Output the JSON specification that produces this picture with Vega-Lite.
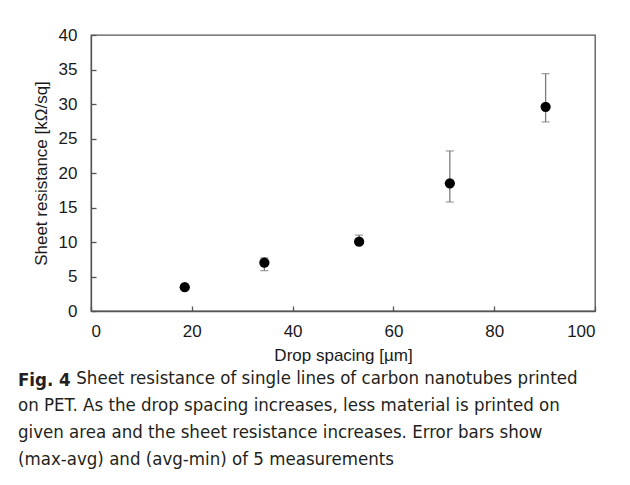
{
  "$schema": "https://vega.github.io/schema/vega-lite/v6.json",
  "autosize": {"type": "none"},
  "width": 504,
  "height": 276,
  "padding": {"left": 91, "top": 35, "right": 35, "bottom": 174},
  "background": "white",
  "data": {
    "values": [
      {"spacing": 18.6, "resistance": 3.45, "low": 3.2, "high": 3.7},
      {"spacing": 34.4, "resistance": 7.0, "low": 5.85, "high": 7.7},
      {"spacing": 53.2, "resistance": 10.05, "low": 9.7, "high": 11.0},
      {"spacing": 71.2, "resistance": 18.5, "low": 15.8, "high": 23.2},
      {"spacing": 90.2, "resistance": 29.6, "low": 27.4, "high": 34.4}
    ]
  },
  "title": {
    "text": "Fig. 4",
    "subtitle": [
      "\u200b\u2003\u2003\u2003\u2002Sheet resistance of single lines of carbon nanotubes printed",
      "on PET. As the drop spacing increases, less material is printed on",
      "given area and the sheet resistance increases. Error bars show",
      "(max-avg) and (avg-min) of 5 measurements"
    ],
    "orient": "bottom",
    "anchor": "start",
    "frame": "group",
    "dx": -73,
    "offset": 8,
    "font": "'DejaVu Sans Condensed', Lato, sans-serif",
    "fontSize": 18.5,
    "fontWeight": "bold",
    "color": "#231f20",
    "subtitleFont": "'DejaVu Sans Condensed', Lato, sans-serif",
    "subtitleFontSize": 18.5,
    "subtitleColor": "#231f20",
    "subtitleLineHeight": 27,
    "subtitlePadding": -20.5
  },
  "encoding": {
    "x": {
      "field": "spacing",
      "type": "quantitative",
      "scale": {"domain": [0, 100], "nice": false},
      "axis": {
        "title": "Drop spacing [µm]",
        "values": [0, 20, 40, 60, 80, 100],
        "grid": false,
        "tickSize": -5,
        "labelPadding": 17,
        "titlePadding": 8
      }
    }
  },
  "layer": [
    {
      "mark": {"type": "errorbar", "color": "#7a7a7a", "thickness": 1.3, "ticks": {"size": 8, "color": "#7a7a7a"}},
      "encoding": {
        "y": {
          "field": "low",
          "type": "quantitative",
          "scale": {"domain": [0, 40], "nice": false},
          "axis": {
            "title": "Sheet resistance [kΩ/sq]",
            "values": [0, 5, 10, 15, 20, 25, 30, 35, 40],
            "grid": false,
            "tickSize": -5,
            "labelPadding": 19,
            "titlePadding": 8
          }
        },
        "y2": {"field": "high"}
      }
    },
    {
      "mark": {"type": "point", "filled": true, "color": "black", "size": 105, "opacity": 1},
      "encoding": {
        "y": {
          "field": "resistance",
          "type": "quantitative",
          "scale": {"domain": [0, 40], "nice": false},
          "axis": {
            "title": "Sheet resistance [kΩ/sq]",
            "values": [0, 5, 10, 15, 20, 25, 30, 35, 40],
            "grid": false,
            "tickSize": -5,
            "labelPadding": 19,
            "titlePadding": 8
          }
        }
      }
    }
  ],
  "config": {
    "view": {"stroke": "#555555", "strokeWidth": 1.3},
    "axis": {
      "domainColor": "#555555",
      "domainWidth": 1.3,
      "tickColor": "#555555",
      "tickWidth": 1.3,
      "labelFont": "Liberation Sans",
      "labelFontSize": 17,
      "labelColor": "#1a1a1a",
      "titleFont": "Liberation Sans",
      "titleFontSize": 17,
      "titleFontWeight": "normal",
      "titleColor": "#1a1a1a"
    }
  }
}
